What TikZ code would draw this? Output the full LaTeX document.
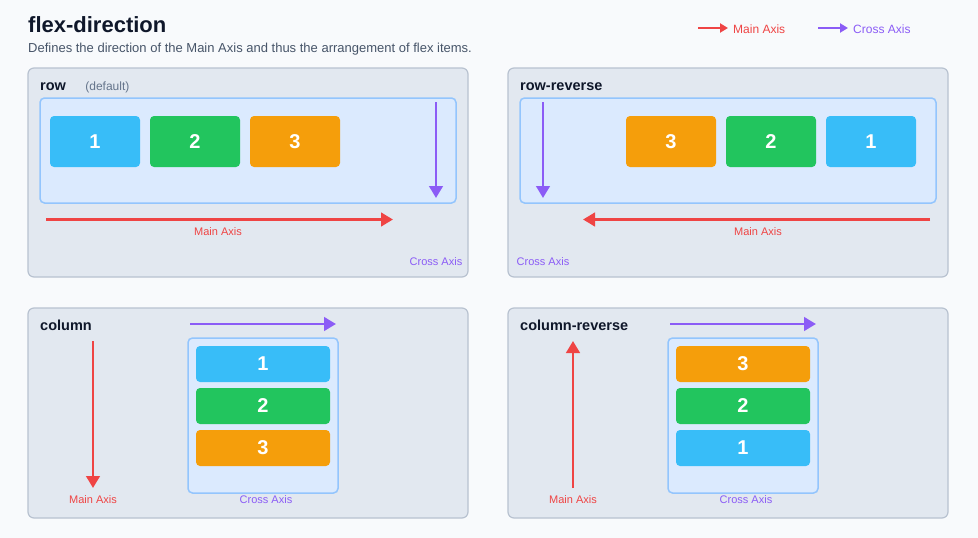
\documentclass[tikz,border=0pt]{standalone}
\usepackage{fontspec}
\setmainfont{Liberation Sans}
\usepackage{xcolor}
\usepackage{tikz}
\usetikzlibrary{arrows.meta, positioning}
\definecolor{pagebg}{HTML}{F8FAFC}
\definecolor{panelfill}{HTML}{E2E8F0}
\definecolor{panelline}{HTML}{B8C2D0}
\definecolor{boxfill}{HTML}{DBEAFE}
\definecolor{boxline}{HTML}{93C5FD}
\definecolor{mainred}{HTML}{EF4444}
\definecolor{crosspurple}{HTML}{8B5CF6}
\definecolor{itemblue}{HTML}{38BDF8}
\definecolor{itemgreen}{HTML}{22C55E}
\definecolor{itemorange}{HTML}{F59E0B}
\definecolor{titleink}{HTML}{0F172A}
\definecolor{subink}{HTML}{475569}
\definecolor{noteink}{HTML}{64748B}
\tikzstyle{panel} = [draw=panelline, line width=1.2pt, fill=panelfill, rounded corners=6pt, anchor=north west, inner sep=0pt, outer sep=0pt, minimum width=440pt]
\tikzstyle{flexbox} = [draw=boxline, line width=1.5pt, fill=boxfill, rounded corners=4.5pt, anchor=north west, inner sep=0pt, outer sep=0pt]
\tikzstyle{flexitem} = [rounded corners=4pt, inner sep=0pt, outer sep=0pt, text=white, font=\fontsize{20}{24}\selectfont\bfseries]
\tikzstyle{rowitem} = [flexitem, minimum width=90pt, minimum height=51pt]
\tikzstyle{colitem} = [flexitem, minimum width=134pt, minimum height=36pt]
\tikzstyle{paneltitle} = [anchor=base west, inner sep=0pt, text=titleink, font=\fontsize{14.5}{17}\selectfont\bfseries]
\tikzstyle{mainarrow} = [draw=mainred, line width=2.8pt, -{Triangle[length=12pt,width=13.5pt]}]
\tikzstyle{crossarrow} = [draw=crosspurple, line width=2.8pt, -{Triangle[length=12pt,width=13.5pt]}]
\tikzstyle{mainlabel} = [inner sep=0pt, text=mainred, font=\fontsize{11}{13}\selectfont]
\tikzstyle{crosslabel} = [inner sep=0pt, text=crosspurple, font=\fontsize{11}{13}\selectfont]

\begin{document}
\begin{tikzpicture}[x=1pt, y=-1pt]
        \useasboundingbox[fill=pagebg] (0,0) rectangle (978,538);

        % Heading
        \node[anchor=base west, inner sep=0pt, text=titleink, font=\fontsize{22}{26}\selectfont\bfseries] (heading) at (28,32) {flex-direction};
        \node[anchor=base west, inner sep=0pt, text=subink, font=\fontsize{13}{15}\selectfont] (subheading) at (28,52) {Defines the direction of the Main Axis and thus the arrangement of flex items.};

        % Legend
        \coordinate (legMainA) at (698,28);
        \coordinate (legMainB) at (728,28);
        \draw[draw=mainred, line width=2.5pt, -{Triangle[length=8pt,width=9pt]}] (legMainA) -- (legMainB);
        \node[mainlabel, anchor=base west, font=\fontsize{12}{14}\selectfont] (legMainLbl) at (733,33) {Main Axis};
        \coordinate (legCrossA) at (818,28);
        \coordinate (legCrossB) at (848,28);
        \draw[draw=crosspurple, line width=2.5pt, -{Triangle[length=8pt,width=9pt]}] (legCrossA) -- (legCrossB);
        \node[crosslabel, anchor=base west, font=\fontsize{12}{14}\selectfont] (legCrossLbl) at (853,33) {Cross Axis};

        % row
        \node[panel, minimum height=209pt] (rowPanel) at (28,68) {};
        \node[paneltitle] (rowTitle) at (40,90) {row};
        \node[base right=19pt of rowTitle, inner sep=0pt, text=noteink, font=\fontsize{12}{14}\selectfont] (rowNote) {(default)};
        \node[flexbox, minimum width=416pt, minimum height=105pt] (rowBox) at (40,98) {};
        \node[rowitem, fill=itemblue, anchor=north west] (rowItemA) at (50,116) {1};
        \node[rowitem, fill=itemgreen, right=10pt of rowItemA] (rowItemB) {2};
        \node[rowitem, fill=itemorange, right=10pt of rowItemB] (rowItemC) {3};
        \coordinate (rowCrossA) at (436,102);
        \coordinate (rowCrossB) at (436,198);
        \draw[crossarrow] (rowCrossA) -- (rowCrossB);
        \coordinate (rowMainA) at (46,219.5);
        \coordinate (rowMainB) at (393,219.5);
        \draw[mainarrow] (rowMainA) -- (rowMainB);
        \node[mainlabel] (rowMainLbl) at (218,232) {Main Axis};
        \node[crosslabel] (rowCrossLbl) at (436,262) {Cross Axis};

        % row-reverse
        \node[panel, minimum height=209pt] (rrPanel) at (508,68) {};
        \node[paneltitle] (rrTitle) at (520,90) {row-reverse};
        \node[flexbox, minimum width=416pt, minimum height=105pt] (rrBox) at (520,98) {};
        \node[rowitem, fill=itemblue, anchor=north east] (rrItemA) at (916,116) {1};
        \node[rowitem, fill=itemgreen, left=10pt of rrItemA] (rrItemB) {2};
        \node[rowitem, fill=itemorange, left=10pt of rrItemB] (rrItemC) {3};
        \coordinate (rrCrossA) at (543,102);
        \coordinate (rrCrossB) at (543,198);
        \draw[crossarrow] (rrCrossA) -- (rrCrossB);
        \coordinate (rrMainA) at (930,219.5);
        \coordinate (rrMainB) at (583,219.5);
        \draw[mainarrow] (rrMainA) -- (rrMainB);
        \node[mainlabel] (rrMainLbl) at (758,232) {Main Axis};
        \node[crosslabel] (rrCrossLbl) at (543,262) {Cross Axis};

        % column
        \node[panel, minimum height=210pt] (colPanel) at (28,308) {};
        \node[paneltitle] (colTitle) at (40,330.5) {column};
        \coordinate (colMainA) at (93,341);
        \coordinate (colMainB) at (93,488);
        \draw[mainarrow] (colMainA) -- (colMainB);
        \node[mainlabel] (colMainLbl) at (93,500) {Main Axis};
        \coordinate (colCrossA) at (190,324);
        \coordinate (colCrossB) at (336,324);
        \draw[crossarrow] (colCrossA) -- (colCrossB);
        \node[flexbox, minimum width=150pt, minimum height=155pt] (colBox) at (188,338) {};
        \node[colitem, fill=itemblue, anchor=north west] (colItemA) at (196,346) {1};
        \node[colitem, fill=itemgreen, below=6pt of colItemA] (colItemB) {2};
        \node[colitem, fill=itemorange, below=6pt of colItemB] (colItemC) {3};
        \node[crosslabel] (colCrossLbl) at (266,500) {Cross Axis};

        % column-reverse
        \node[panel, minimum height=210pt] (crPanel) at (508,308) {};
        \node[paneltitle] (crTitle) at (520,330.5) {column-reverse};
        \coordinate (crMainA) at (573,488);
        \coordinate (crMainB) at (573,341);
        \draw[mainarrow] (crMainA) -- (crMainB);
        \node[mainlabel] (crMainLbl) at (573,500) {Main Axis};
        \coordinate (crCrossA) at (670,324);
        \coordinate (crCrossB) at (816,324);
        \draw[crossarrow] (crCrossA) -- (crCrossB);
        \node[flexbox, minimum width=150pt, minimum height=155pt] (crBox) at (668,338) {};
        \node[colitem, fill=itemorange, anchor=north west] (crItemC) at (676,346) {3};
        \node[colitem, fill=itemgreen, below=6pt of crItemC] (crItemB) {2};
        \node[colitem, fill=itemblue, below=6pt of crItemB] (crItemA) {1};
        \node[crosslabel] (crCrossLbl) at (746,500) {Cross Axis};

    \end{tikzpicture}
\end{document}
